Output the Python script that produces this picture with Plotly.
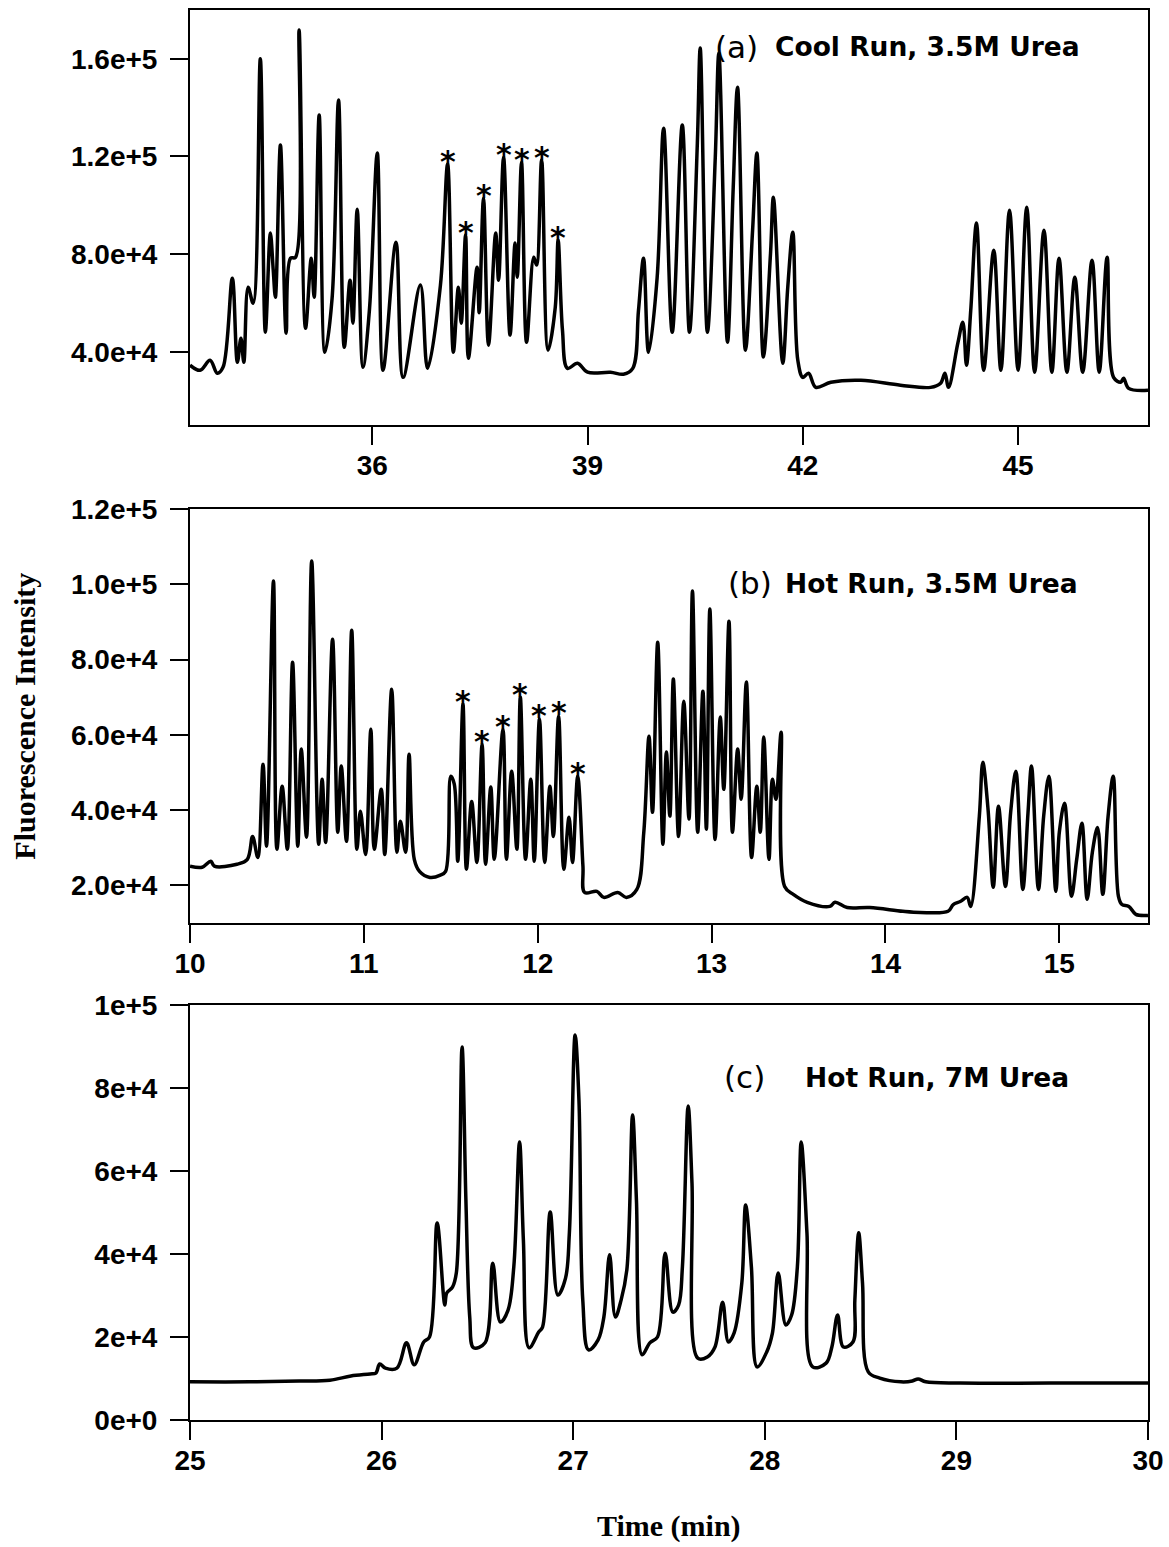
import plotly.graph_objects as go

# ---------------- Panel (a): Cool Run, 3.5M Urea ----------------
time_a = [33.46, 33.60, 33.74, 33.84, 33.92, 34.05, 34.12, 34.17, 34.21, 34.27,
          34.34, 34.44, 34.51, 34.58, 34.62, 34.65, 34.72, 34.80, 34.86, 34.93,
          34.98, 35.07, 35.15, 35.19, 35.26, 35.34, 35.44, 35.53, 35.61, 35.69,
          35.73, 35.79, 35.87, 35.96, 36.07, 36.15, 36.33, 36.43, 36.67, 36.77,
          36.95, 37.05, 37.13, 37.20, 37.24, 37.30, 37.34, 37.46, 37.49, 37.55,
          37.62, 37.72, 37.76, 37.83, 37.92, 37.99, 38.02, 38.08, 38.15, 38.25,
          38.29, 38.36, 38.45, 38.55, 38.59, 38.65, 38.72, 38.86, 39.00, 39.32,
          39.50, 39.63, 39.71, 39.78, 39.85, 39.97, 40.06, 40.18, 40.32, 40.42,
          40.53, 40.57, 40.67, 40.78, 40.83, 40.95, 41.03, 41.09, 41.20, 41.30,
          41.36, 41.45, 41.55, 41.59, 41.72, 41.79, 41.86, 41.93, 42.00, 42.08,
          42.18, 42.39, 42.81, 43.36, 43.78, 43.92, 43.98, 44.03, 44.16, 44.23,
          44.28, 44.34, 44.42, 44.52, 44.66, 44.76, 44.88, 45.00, 45.12, 45.23,
          45.36, 45.47, 45.57, 45.68, 45.79, 45.90, 46.03, 46.13, 46.24, 46.33,
          46.43, 46.47, 46.54, 46.81]
intensity_a = [34500, 32400, 36500, 31200, 33600, 70100, 35700, 45500, 35700, 66400,
               59900, 160000, 48000, 88600, 73400, 62300, 124700, 47600, 78300, 78700,
               171800, 49600, 78300, 62300, 137000, 39800, 61900, 143100, 41800, 69300,
               51700, 98400, 33600, 57000, 121400, 32400, 84900, 29500, 67300, 33200,
               67300, 116900, 39800, 66400, 51700, 87800, 37300, 74600, 56000, 102900,
               42700, 88600, 69300, 119700, 46800, 84500, 70500, 117600, 43900, 78700,
               75500, 118500, 40600, 58200, 85700, 49000, 33200, 35300, 31600, 31600,
               30800, 33200, 57000, 78300, 39800, 70500, 131600, 48000, 132900, 48000,
               125500, 164400, 48000, 119700, 162400, 43900, 107400, 148400, 40600, 89800,
               121400, 37800, 80400, 103300, 35300, 66400, 89000, 36500, 29500, 31200,
               25400, 27500, 28300, 26300, 25400, 27100, 31200, 25400, 43500, 52100,
               34500, 57000, 92700, 32400, 81600, 32400, 98000, 32400, 99200, 31600,
               89800, 31600, 78300, 31600, 70500, 31600, 77500, 31600, 78700, 29500,
               27500, 29100, 25000, 24200]
star_time_a = [37.05, 37.30, 37.55, 37.83, 38.08, 38.36, 38.59]
star_int_a = [116900, 87800, 102900, 119700, 117600, 118500, 85700]

# ---------------- Panel (b): Hot Run, 3.5M Urea ----------------
time_b = [10.00, 10.07, 10.12, 10.14, 10.27, 10.33, 10.36, 10.39, 10.42, 10.44,
          10.48, 10.50, 10.53, 10.56, 10.59, 10.62, 10.64, 10.67, 10.70, 10.74,
          10.76, 10.78, 10.82, 10.85, 10.87, 10.90, 10.93, 10.96, 10.98, 11.01,
          11.04, 11.06, 11.10, 11.12, 11.16, 11.19, 11.21, 11.24, 11.26, 11.29,
          11.32, 11.38, 11.44, 11.47, 11.50, 11.52, 11.54, 11.57, 11.59, 11.62,
          11.65, 11.68, 11.70, 11.73, 11.75, 11.80, 11.82, 11.85, 11.88, 11.90,
          11.93, 11.96, 11.98, 12.01, 12.04, 12.07, 12.09, 12.12, 12.15, 12.18,
          12.20, 12.23, 12.26, 12.27, 12.34, 12.38, 12.46, 12.51, 12.57, 12.61,
          12.64, 12.66, 12.69, 12.72, 12.74, 12.76, 12.78, 12.81, 12.84, 12.87,
          12.89, 12.92, 12.95, 12.97, 12.99, 13.02, 13.05, 13.07, 13.10, 13.12,
          13.15, 13.17, 13.20, 13.23, 13.26, 13.28, 13.30, 13.33, 13.35, 13.37,
          13.40, 13.42, 13.47, 13.55, 13.68, 13.71, 13.78, 13.91, 14.10, 14.20,
          14.36, 14.39, 14.43, 14.47, 14.49, 14.54, 14.56, 14.59, 14.62, 14.65,
          14.69, 14.72, 14.75, 14.79, 14.82, 14.84, 14.88, 14.91, 14.94, 14.98,
          15.00, 15.03, 15.07, 15.10, 15.13, 15.16, 15.19, 15.22, 15.25, 15.28,
          15.31, 15.34, 15.36, 15.40, 15.44, 15.51]
intensity_b = [25100, 24800, 26400, 25100, 25600, 26900, 33000, 27400, 52200, 30400,
               100900, 29600, 46300, 29600, 79300, 30400, 56200, 32800, 106200, 30900,
               48200, 31400, 85400, 34100, 51700, 31700, 87800, 29600, 39700, 28200,
               61500, 29600, 45500, 28200, 72100, 28800, 37000, 28800, 54800, 26900,
               23700, 22100, 22700, 23700, 49000, 46900, 26400, 68100, 24300, 42300,
               26100, 57500, 25600, 46100, 26900, 61500, 26900, 50300, 29600, 70000,
               26900, 48200, 26400, 64200, 26100, 46300, 33000, 65000, 24300, 38100,
               26100, 49000, 25100, 18100, 18400, 16800, 18100, 16800, 18900, 34100,
               59600, 39400, 84600, 30900, 55400, 38400, 74800, 33000, 68900, 37600,
               98200, 34100, 71600, 34900, 93400, 32200, 64700, 45500, 90200, 34100,
               56200, 42900, 74000, 27400, 46300, 34100, 59400, 26900, 48200, 42900,
               60700, 19700, 17600, 15500, 14400, 15500, 14100, 14100, 13100, 12800,
               13100, 14900, 15700, 16800, 14400, 38400, 52700, 40200, 19500, 41000,
               19700, 39400, 50300, 18900, 39400, 51700, 18900, 38400, 49000, 18400,
               34100, 41800, 17100, 26900, 36500, 16300, 28800, 35400, 17600, 38100,
               49000, 17100, 14900, 14400, 12300, 12000]
star_time_b = [11.57, 11.68, 11.80, 11.90, 12.01, 12.12, 12.23]
star_int_b = [68100, 57500, 61500, 70000, 64200, 65000, 49000]

# ---------------- Panel (c): Hot Run, 7M Urea ----------------
time_c = [25.00, 25.31, 25.57, 25.73, 25.84, 25.94, 25.97, 25.99, 26.02, 26.08,
          26.13, 26.17, 26.22, 26.25, 26.29, 26.33, 26.34, 26.37, 26.39, 26.42,
          26.44, 26.46, 26.48, 26.54, 26.58, 26.62, 26.66, 26.69, 26.72, 26.74,
          26.77, 26.82, 26.84, 26.88, 26.92, 26.96, 26.98, 27.01, 27.03, 27.05,
          27.08, 27.13, 27.16, 27.19, 27.22, 27.25, 27.28, 27.31, 27.33, 27.36,
          27.40, 27.44, 27.48, 27.52, 27.55, 27.57, 27.60, 27.62, 27.65, 27.70,
          27.74, 27.78, 27.81, 27.84, 27.88, 27.90, 27.93, 27.96, 28.01, 28.04,
          28.07, 28.11, 28.14, 28.17, 28.19, 28.22, 28.25, 28.32, 28.35, 28.38,
          28.41, 28.46, 28.47, 28.49, 28.51, 28.54, 28.60, 28.71, 28.77, 28.80,
          28.84, 29.02, 29.49, 30.00]
intensity_c = [9200, 9200, 9400, 9600, 10600, 11100, 11300, 13500, 12500, 12500,
               18600, 13300, 18800, 20000, 47500, 27700, 30600, 32000, 35400, 89900,
               53000, 24800, 17400, 18600, 37800, 23600, 26500, 36900, 67000, 43400,
               17400, 21200, 22400, 50100, 30100, 34200, 45100, 92800, 77100, 28900,
               16900, 19300, 24800, 39800, 24800, 28900, 36200, 73500, 53000, 15700,
               18600, 20000, 40200, 26000, 27700, 36900, 75700, 57100, 14900, 15200,
               17600, 28400, 18800, 21000, 33000, 51800, 36900, 12800, 16400, 21000,
               35400, 22900, 25300, 36900, 67000, 45100, 12800, 13700, 17600, 25300,
               17600, 18800, 28900, 45100, 33000, 11600, 10100, 9200, 9400, 9900,
               9200, 8900, 8900, 8900]

# ---------------- Axis ticks ----------------
xticks_a = [36, 39, 42, 45]
yticks_a = [40000, 80000, 120000, 160000]
yticklabels_a = ["4.0e+4", "8.0e+4", "1.2e+5", "1.6e+5"]
xticks_b = [10, 11, 12, 13, 14, 15]
yticks_b = [20000, 40000, 60000, 80000, 100000, 120000]
yticklabels_b = ["2.0e+4", "4.0e+4", "6.0e+4", "8.0e+4", "1.0e+5", "1.2e+5"]
xticks_c = [25, 26, 27, 28, 29, 30]
yticks_c = [0, 20000, 40000, 60000, 80000, 100000]
yticklabels_c = ["0e+0", "2e+4", "4e+4", "6e+4", "8e+4", "1e+5"]

tickfont = dict(family="Liberation Sans", size=28, color="black", weight="bold")
line_style = dict(color="black", width=3.5, shape="spline", smoothing=1.0)

fig = go.Figure()
fig.add_trace(go.Scatter(x=time_a, y=intensity_a, mode="lines", line=line_style,
                         xaxis="x", yaxis="y", showlegend=False))
fig.add_trace(go.Scatter(x=time_b, y=intensity_b, mode="lines", line=line_style,
                         xaxis="x2", yaxis="y2", showlegend=False))
fig.add_trace(go.Scatter(x=time_c, y=intensity_c, mode="lines", line=line_style,
                         xaxis="x3", yaxis="y3", showlegend=False))

annotations = []
star_font = dict(family="DejaVu Sans", size=30, color="black")
for xs, ys, xr, yr in [(star_time_a, star_int_a, "x", "y"), (star_time_b, star_int_b, "x2", "y2")]:
    for xv, yv in zip(xs, ys):
        annotations.append(dict(x=xv, y=yv, xref=xr, yref=yr, text="<b>*</b>", showarrow=False,
                                font=star_font, xanchor="center", yanchor="middle", yshift=3))

def panel_label(letter, text, xr, yr, x_letter, x_text, y):
    annotations.append(dict(x=x_letter, y=y, xref=xr, yref=yr, xanchor="left", yanchor="middle",
                            showarrow=False, text="(" + letter + ")",
                            font=dict(family="DejaVu Sans", size=31, color="black")))
    annotations.append(dict(x=x_text, y=y, xref=xr, yref=yr, xanchor="left", yanchor="middle",
                            showarrow=False, text="<b>" + text + "</b>",
                            font=dict(family="DejaVu Sans", size=26.5, color="black")))

panel_label("a", "Cool Run, 3.5M Urea", "x domain", "y domain", 0.546, 0.6086, 0.911)
panel_label("b", "Hot Run, 3.5M Urea", "x2 domain", "y2 domain", 0.5600, 0.619, 0.821)
panel_label("c", "Hot Run, 7M Urea", "x3 domain", "y3 domain", 0.5550, 0.6399, 0.8265)

annotations.append(dict(x=-0.173, y=0.499, xref="paper", yref="paper", text="<b>Fluorescence Intensity</b>",
                        textangle=-90, showarrow=False, xanchor="center", yanchor="middle",
                        font=dict(family="Liberation Serif", size=30, color="black")))
annotations.append(dict(x=0.5, y=-0.075, xref="paper", yref="paper", text="<b>Time (min)</b>",
                        showarrow=False, xanchor="center", yanchor="middle",
                        font=dict(family="Liberation Serif", size=30, color="black")))

def xaxis(rng, ticks, anchor):
    return dict(range=rng, tickmode="array", tickvals=ticks, ticktext=[str(t) for t in ticks],
                showline=True, linecolor="black", linewidth=2, mirror=True,
                ticks="outside", ticklen=18, tickwidth=2, tickcolor="black",
                showgrid=False, zeroline=False, tickfont=tickfont, anchor=anchor,
                domain=[0, 1], ticklabelstandoff=-4, automargin=False)

def yaxis(rng, ticks, labels, anchor, domain):
    return dict(range=rng, tickmode="array", tickvals=ticks, ticktext=labels,
                showline=True, linecolor="black", linewidth=2, mirror=True,
                ticks="outside", ticklen=18, tickwidth=2, tickcolor="black",
                showgrid=False, zeroline=False, tickfont=tickfont, anchor=anchor,
                domain=list(domain), ticklabelstandoff=7, automargin=False)

fig.update_layout(
    template="none",
    width=1169, height=1547,
    margin=dict(l=190, r=21, t=10, b=127, autoexpand=False),
    paper_bgcolor="white", plot_bgcolor="white",
    xaxis=xaxis([33.46, 46.81], xticks_a, "y"),
    yaxis=yaxis([10000, 180000], yticks_a, yticklabels_a, "x", (0.7057, 1.0)),
    xaxis2=xaxis([10, 15.51], xticks_b, "y2"),
    yaxis2=yaxis([10000, 120000], yticks_b, yticklabels_b, "x2", (0.3525, 0.6461)),
    xaxis3=xaxis([25, 30], xticks_c, "y3"),
    yaxis3=yaxis([0, 100000], yticks_c, yticklabels_c, "x3", (0.0, 0.2943)),
    annotations=annotations,
    showlegend=False,
)

fig.write_html("out.html")
